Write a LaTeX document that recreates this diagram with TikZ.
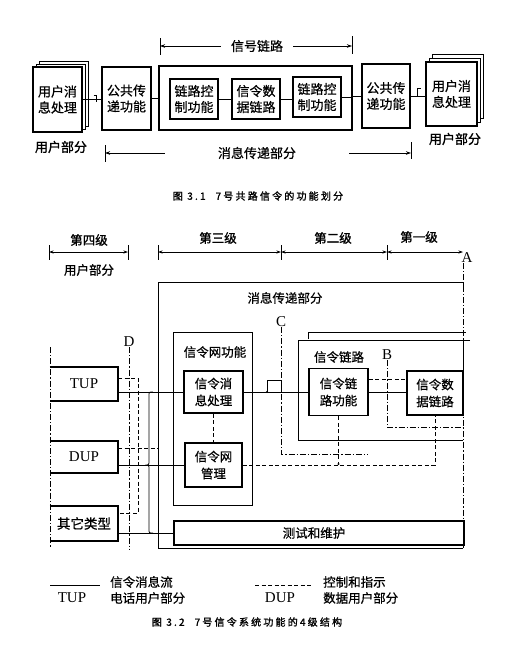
\documentclass[tikz,border=0pt]{standalone}
\usepackage{fontspec}
\setmainfont{Liberation Serif}
\newfontfamily\cjk{Noto Sans CJK SC}[FakeBold=0.6]
\newfontfamily\cjkb{Noto Sans CJK SC}[FakeBold=1.3]
\newfontfamily\cjkcap{Noto Sans CJK SC}[FakeBold=1.4,LetterSpace=22]
\usetikzlibrary{arrows.meta}
\tikzset{
  ln/.style={line width=0.8pt},
  thk/.style={line width=1.6pt},
  tbox/.style={draw, line width=1.6pt, fill=white, inner sep=0pt, align=center,
    font=\cjk\fontsize{13}{16}\selectfont},
  bbox/.style={draw, line width=1.6pt, fill=white, inner sep=0pt, align=center,
    font=\cjk\fontsize{12.5}{17}\selectfont},
  lbl/.style={inner sep=0pt, font=\cjk\fontsize{12.5}{15}\selectfont},
  lvl/.style={inner sep=0pt, font=\cjkb\fontsize{12.5}{15}\selectfont},
  latin/.style={inner sep=0pt, font=\fontsize{15}{17}\selectfont},
  captxt/.style={inner sep=0pt, font=\cjkcap\fontsize{10}{12}\selectfont},
  dashdot/.style={line width=0.7pt, dash pattern=on 6pt off 2pt on 1.2pt off 2pt},
  dsh/.style={line width=0.7pt, dash pattern=on 4pt off 2.5pt},
  arr/.style={line width=0.8pt, -{Stealth[length=5pt,width=3.5pt]}},
  darr/.style={line width=0.8pt, {Stealth[length=4.5pt,width=3pt]}-{Stealth[length=4.5pt,width=3pt]}},
}
\begin{document}
\begin{tikzpicture}[x=1pt,y=-1pt]
\useasboundingbox (0,0) rectangle (522,672);
\fill[white] (0,0) rectangle (522,672);

% ================= Figure 3.1 =================
% left user stack
\draw[ln, fill=white] (39,61) rectangle (88,126);
\draw[ln, fill=white] (36,64) rectangle (85,129);
\node[tbox, minimum width=49pt, minimum height=65pt] (uL) at (57.5,99.5) {用户消\\息处理};
\node[lvl, font=\cjkb\fontsize{13}{15}\selectfont] (uLl) at (61,147) {用户部分};

\node[tbox, minimum width=49pt, minimum height=63pt] (gL) at (126.5,98.5) {公共传\\递功能};
\node[tbox, minimum width=193pt, minimum height=64pt] (sig) at (255.5,98) {};
\node[tbox, minimum width=48pt, minimum height=40pt] (lc1) at (194,99) {链路控\\制功能};
\node[tbox, minimum width=48pt, minimum height=40pt] (sdl) at (256,99) {信令数\\据链路};
\node[tbox, minimum width=48pt, minimum height=40pt] (lc2) at (317,97) {链路控\\制功能};
\node[tbox, minimum width=48pt, minimum height=64pt] (gR) at (386,96) {公共传\\递功能};

% right user stack
\draw[ln, fill=white] (432,54) rectangle (483,118);
\draw[ln, fill=white] (429,58) rectangle (480,122);
\node[tbox, minimum width=51pt, minimum height=64pt] (uR) at (451.5,94) {用户消\\息处理};
\node[lvl, font=\cjkb\fontsize{13}{15}\selectfont] (uRl) at (455,139) {用户部分};

% connectors
\draw[ln] (uL.east) -- (uL.east -| gL.west);
\draw[ln] (93.5,95.5) -- (96.5,95.5) -- (96.5,102);
\draw[ln] (gL.east) -- (gL.east -| sig.west);
\draw[ln] (lc1.east) -- (sdl.west);
\draw[ln] (sdl.east) -- (sdl.east -| lc2.west);
\draw[ln] (lc2.east) -- (lc2.east -| sig.east);
\draw[ln] (gR.west -| sig.east) -- (gR.west);
\draw[ln] (gR.east) -- (gR.east -| uR.west);
\draw[ln] (417,96) -- (417,88) -- (421,88);

% span arrows
\node[lbl, font=\cjk\fontsize{13}{15}\selectfont] (tsl) at (257,46) {信号链路};
\draw[ln] (160,38) -- (160,55);
\draw[ln] (352,36) -- (352,54);
\coordinate (tslL) at (160,46);
\coordinate (tslR) at (352,46);
\draw[arr] ([xshift=-10pt]tsl.west) -- (tslL);
\draw[arr] ([xshift=10pt]tsl.east) -- (tslR);

\node[lbl, font=\cjk\fontsize{13}{15}\selectfont] (tmt) at (257,153) {消息传递部分};
\draw[ln] (105,145) -- (105,162);
\draw[ln] (411,142) -- (411,159);
\coordinate (tmtL) at (105,153);
\coordinate (tmtR) at (411,153);
\draw[arr] ([xshift=-53pt]tmt.west) -- (tmtL);
\draw[arr] ([xshift=53pt]tmt.east) -- (tmtR);

\node[captxt] (cap1) at (258,196) {图 3.1\quad 7号共路信令的功能划分};

% ================= Figure 3.2 =================
% level header
\foreach \x in {49,128,158,281,387} \draw[ln] (\x,245) -- (\x,260);
\coordinate (l4a) at (49,252); \coordinate (l4b) at (128,252);
\coordinate (l3a) at (158,252); \coordinate (l3b) at (281,252);
\coordinate (l2b) at (387,252); \coordinate (l1b) at (463,252);
\draw[darr] (l4a) -- (l4b);
\draw[darr] (l3a) -- (l3b);
\draw[darr] (l3b) -- (l2b);
\draw[darr] (l2b) -- (l1b);
\node[lvl] (t4) at (89,240) {第四级};
\node[lvl] (t4u) at (89,270) {用户部分};
\node[lvl] (t3) at (218,238) {第三级};
\node[lvl] (t2) at (333,238) {第二级};
\node[lvl] (t1) at (419,237) {第一级};
\node[latin] (A) at (467,258) {A};
\draw[dashdot] (A.south -| l1b) -- (463,548);

% message transfer part container
\draw[ln] (463,288) -- (463,282) -- (158,282) -- (158,548) -- (463,548);
\node[lbl] (mtp) at (285,298) {消息传递部分};

% signalling network functions
\draw[ln] (173,332) rectangle (252,505);
\node[lbl] (snf) at (215,352) {信令网功能};
\node[bbox, minimum width=59pt, minimum height=42pt] (smh) at (213.5,392) {信令消\\息处理};
\node[bbox, minimum width=57pt, minimum height=44pt] (snm) at (213.5,465) {信令网\\管理};
\draw[dsh] (smh.south) -- (snm.north);

% signalling link container
\draw[ln] (470,340) -- (298,340) -- (298,440) -- (463,440);
\draw[ln] (308,339) -- (308,332) -- (466,332);
\draw[ln] (463,340) -- (463,371);
\node[lbl] (slk) at (339,357) {信令链路};
\node[bbox, minimum width=59pt, minimum height=47pt] (slf) at (338.5,392) {信令链\\路功能};
\node[bbox, minimum width=56pt, minimum height=44pt] (sdl2) at (435,393) {信令数\\据链路};
\draw[ln] (slf.east) -- (slf.east -| sdl2.west);
\draw[dsh] ([yshift=13pt]slf.east) -- ([yshift=13pt]slf.east -| sdl2.west);

% B and C reference lines
\node[latin] (B) at (387,355) {B};
\draw[dashdot] (B.south) -- (387,427) -- (463,427);
\node[latin] (C) at (281,322) {C};
\draw[dashdot] (C.south) -- (281,454) -- (368,454);

% control lines
\draw[dsh] (slf.south) -- (slf.south |- 0,464);
\fill (slf.south |- 0,464) circle (1.2pt);
\draw[dsh] (snm.east) -- (snm.east -| sdl2.south) -- (sdl2.south);

% test and maintenance
\node[bbox, minimum width=290pt, minimum height=24pt] (tm) at (319,533) {测试和维护\hspace*{10pt}};

% user part boxes
\node[latin, minimum width=68pt, minimum height=34pt] (tup) at (84,384) {TUP};
\node[latin, minimum width=68pt, minimum height=32pt] (dup) at (84,457) {DUP};
\node[lbl, font=\cjk\fontsize{13.5}{15}\selectfont, minimum width=68pt, minimum height=35pt] (oth) at (84,523.5) {其它类型};
\foreach \b in {tup,dup,oth}
  \draw[thk] (\b.north west) -- (\b.north east) -- (\b.south east) -- (\b.south west);
\draw[dashdot] (50,347) -- (50,548);
\node[latin] (D) at (129,342) {D};
\draw[dashdot] (D.south) -- (129,550);

% dashed control from user parts
\draw[dsh] ([yshift=6pt]tup.east) -- (138,378) -- (138,513) -- (oth.east |- 0,513);
\draw[dsh] ([yshift=9pt]dup.east) -- (158,448);

% signalling message flow
\draw[ln] ([yshift=-8pt]tup.east) -- (smh.west);
\draw[ln] ([yshift=-8pt]dup.east) -- (snm.west);
\draw[ln] ([yshift=-9.5pt]oth.east) -- (tm.west);
\draw[ln] (153,392) .. controls (149,392) .. (149,396) -- (149,460)
  .. controls (149,465) .. (145.5,465) .. controls (149,465) .. (149,470)
  -- (149,529) .. controls (149,533) .. (153,533);
\draw[ln] (smh.east) -- (slf.west);
\draw[ln] (267,392) |- (281,380) -- (281,392);
\fill (267,392) circle (1.2pt);

% legend
\coordinate (lg1a) at (50,585); \coordinate (lg1b) at (100,585);
\draw[ln] (lg1a) -- (lg1b);
\node[lbl, anchor=west] (lgt1) at (110,582) {信令消息流};
\node[latin] (lgtup) at (72,598) {TUP};
\node[lbl, anchor=west] (lgt2) at (110,598) {电话用户部分};
\coordinate (lg2a) at (255,585); \coordinate (lg2b) at (312,585);
\draw[dsh] (lg2a) -- (lg2b);
\node[lbl, anchor=west] (lgt3) at (323,582) {控制和指示};
\node[latin] (lgdup) at (280,598) {DUP};
\node[lbl, anchor=west] (lgt4) at (323,598) {数据用户部分};

\node[captxt] (cap2) at (247,622) {图 3.2\quad 7号信令系统功能的4级结构};
\end{tikzpicture}
\end{document}
